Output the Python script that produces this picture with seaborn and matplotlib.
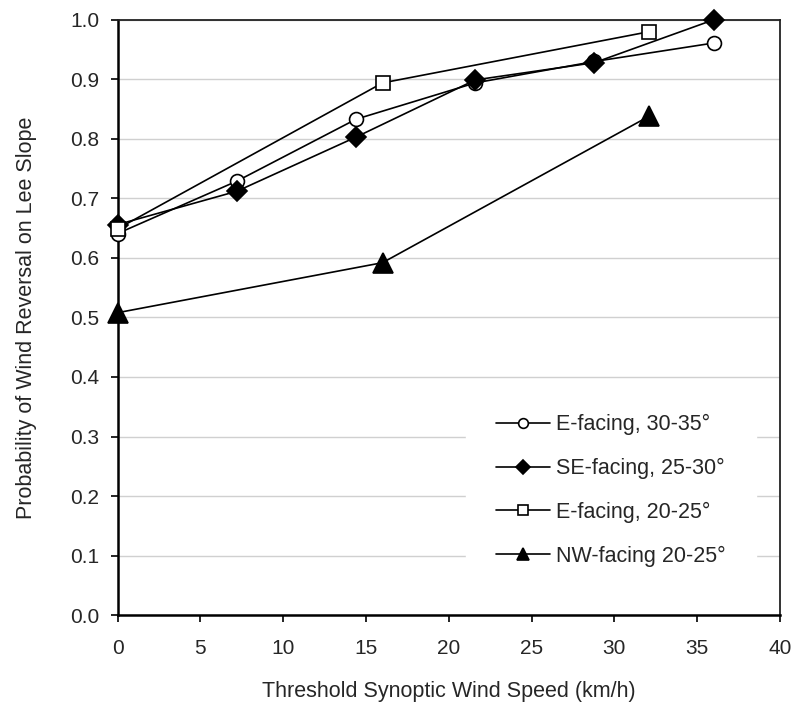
import pandas as pd
import matplotlib.pyplot as plt
import seaborn as sns

# data
e30_x = [0, 7.2, 14.4, 21.6, 28.8, 36]
e30_y = [0.641, 0.729, 0.833, 0.894, 0.930, 0.961]
se25_x = [0, 7.2, 14.4, 21.6, 28.8, 36]
se25_y = [0.656, 0.712, 0.803, 0.899, 0.928, 1.000]
e20_x = [0, 16.0, 32.1]
e20_y = [0.649, 0.894, 0.980]
nw20_x = [0, 16.0, 32.1]
nw20_y = [0.508, 0.592, 0.838]

labels = ["E-facing, 30-35°", "SE-facing, 25-30°", "E-facing, 20-25°", "NW-facing 20-25°"]

sns.set_theme(style="white")
plt.rcParams['font.family'] = ['Liberation Sans', 'DejaVu Sans']

fig = plt.figure(figsize=(7.95, 7.07), dpi=100)
ax = fig.add_axes([0.148, 0.130, 0.833, 0.842])

# marker, face colour, size on plot, size in legend
series = [
    (e30_x, e30_y, 'o', 'white', 10, 7),
    (se25_x, se25_y, 'D', 'black', 10, 7.5),
    (e20_x, e20_y, 's', 'white', 9.5, 7),
    (nw20_x, nw20_y, '^', 'black', 14, 9),
]
for (xs, ys, m, fc, ms, _), lab in zip(series, labels):
    df = pd.DataFrame({'x': xs, 'y': ys})
    sns.lineplot(data=df, x='x', y='y', ax=ax, color='black', lw=1.2,
                 marker=m, markersize=ms, markerfacecolor=fc,
                 markeredgecolor='black', markeredgewidth=1.2, label=lab,
                 clip_on=False, zorder=3)

ax.set_xlim(0, 40)
ax.set_ylim(0, 1.0)
ax.set_xticks(range(0, 41, 5))
ax.set_yticks([i / 10 for i in range(11)])
ax.set_yticklabels([f"{i / 10:.1f}" for i in range(11)])
ax.yaxis.grid(True, color='#d0d0d0', lw=1)
ax.set_axisbelow(True)
ax.tick_params(axis='both', labelsize=15, direction='out', length=5,
               width=1.2, color='black', bottom=True, left=True)
ax.tick_params(axis='x', pad=12)
ax.tick_params(axis='y', pad=8)
for s in ['left', 'bottom']:
    ax.spines[s].set_linewidth(1.8)
    ax.spines[s].set_color('black')
for s in ['top', 'right']:
    ax.spines[s].set_linewidth(1.3)
    ax.spines[s].set_color('#222222')

ax.set_xlabel("Threshold Synoptic Wind Speed (km/h)", fontsize=15.5, labelpad=17)
ax.set_ylabel("Probability of Wind Reversal on Lee Slope", fontsize=15.5, labelpad=24)

leg = ax.legend(loc='upper left', bbox_to_anchor=(0.526, 0.388), fontsize=15.5,
                frameon=True, fancybox=False, edgecolor='white', facecolor='white',
                framealpha=1, labelspacing=1.05, handlelength=2.5, handletextpad=0.3,
                borderpad=1.4, borderaxespad=0)
for h, s in zip(leg.legend_handles, series):
    h.set_markersize(s[5])

fig.savefig("out.png", dpi=100)
